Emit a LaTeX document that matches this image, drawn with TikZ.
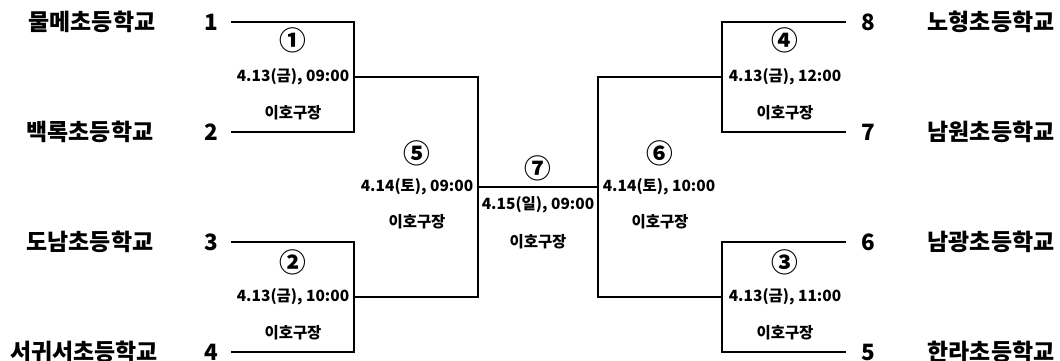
\documentclass[tikz,border=0pt]{standalone}
\usepackage{fontspec}
\setmainfont{Noto Sans CJK KR}
\usepackage{tikz}
\usetikzlibrary{positioning}

\begin{document}
\begin{tikzpicture}[
    x=0.025cm, y=-0.025cm,
    font=\bfseries,
    sekolah/.style={font=\fontsize{16.3}{16}\selectfont\bfseries, inner sep=0pt},
    nomor/.style={font=\fontsize{16}{16}\selectfont\bfseries, inner sep=0pt},
    laga/.style={font=\fontsize{19}{19}\selectfont\bfseries, inner sep=0pt},
    jadwal/.style={font=\fontsize{11}{11}\selectfont\bfseries, inner sep=0pt},
    tempat/.style={font=\fontsize{11}{11}\selectfont\bfseries, inner sep=0pt},
    garis/.style={line width=1.5pt}
  ]
    \useasboundingbox (0,0) rectangle (1060,361);

    % sekolah kiri
    \node[sekolah] (s1) at (92,22) {물메초등학교};
    \node[sekolah] (s2) at (90,132) {백록초등학교};
    \node[sekolah] (s3) at (90,242) {도남초등학교};
    \node[sekolah] (s4) at (84,352) {서귀서초등학교};
    \node[nomor] (n1) at (211,22) {1};
    \node[nomor] (n2) at (211,132) {2};
    \node[nomor] (n3) at (211,242) {3};
    \node[nomor] (n4) at (211,352) {4};

    % sekolah kanan
    \node[sekolah] (s8) at (991,22) {노형초등학교};
    \node[sekolah] (s7) at (991,132) {남원초등학교};
    \node[sekolah] (s6) at (991,242) {남광초등학교};
    \node[sekolah] (s5) at (991,352) {한라초등학교};
    \node[nomor] (n8) at (868,22) {8};
    \node[nomor] (n7) at (868,132) {7};
    \node[nomor] (n6) at (868,242) {6};
    \node[nomor] (n5) at (868,352) {5};

    % ujung garis
    \coordinate (a1) at (231,22);
    \coordinate (a2) at (231,132);
    \coordinate (a3) at (231,242);
    \coordinate (a4) at (231,352);
    \coordinate (a8) at (846,22);
    \coordinate (a7) at (846,132);
    \coordinate (a6) at (846,242);
    \coordinate (a5) at (846,352);
    \coordinate (m1) at (354,77);
    \coordinate (m2) at (354,297);
    \coordinate (m4) at (722,77);
    \coordinate (m3) at (722,297);
    \coordinate (m5) at (478,187);
    \coordinate (m6) at (598,187);

    \draw[garis] (a1) -| (m1) |- (a2);
    \draw[garis] (a3) -| (m2) |- (a4);
    \draw[garis] (a8) -| (m4) |- (a7);
    \draw[garis] (a6) -| (m3) |- (a5);
    \draw[garis] (m1) -| (m5);
    \draw[garis] (m2) -| (m5);
    \draw[garis] (m4) -| (m6);
    \draw[garis] (m3) -| (m6);
    \draw[garis] (m5) -- (m6);

    % laga
    \node[laga] (l1) at (293,40) {①};
    \node[jadwal] (j1) at (293,77) {4.13(금), 09:00};
    \node[tempat] (p1) at (293,113) {이호구장};
    \node[laga] (l2) at (293,262) {②};
    \node[jadwal] (j2) at (293,297) {4.13(금), 10:00};
    \node[tempat] (p2) at (293,333) {이호구장};
    \node[laga] (l4) at (785,40) {④};
    \node[jadwal] (j4) at (785,77) {4.13(금), 12:00};
    \node[tempat] (p4) at (785,113) {이호구장};
    \node[laga] (l3) at (785,262) {③};
    \node[jadwal] (j3) at (785,297) {4.13(금), 11:00};
    \node[tempat] (p3) at (785,333) {이호구장};
    \node[laga] (l5) at (417,153) {⑤};
    \node[jadwal] (j5) at (417,187) {4.14(토), 09:00};
    \node[tempat] (p5) at (417,222) {이호구장};
    \node[laga] (l6) at (660,153) {⑥};
    \node[jadwal] (j6) at (659,187) {4.14(토), 10:00};
    \node[tempat] (p6) at (660,222) {이호구장};
    \node[laga] (l7) at (538,168) {⑦};
    \node[jadwal] (j7) at (538,205) {4.15(일), 09:00};
    \node[tempat] (p7) at (538,242) {이호구장};
  \end{tikzpicture}
\end{document}
